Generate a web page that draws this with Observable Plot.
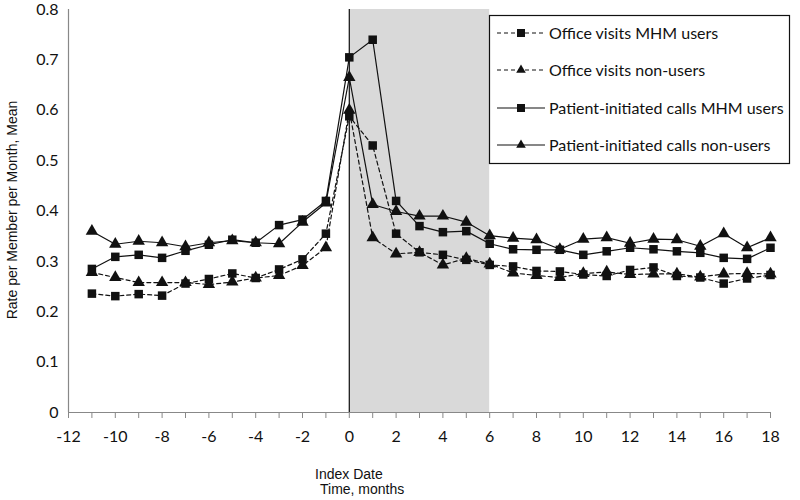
<!DOCTYPE html>
<html>
<head>
<meta charset="utf-8">
<script src="https://cdn.jsdelivr.net/npm/d3@7"></script>
<script src="https://cdn.jsdelivr.net/npm/@observablehq/plot@0.6"></script>
<style>
  html, body { margin: 0; padding: 0; background: #fff; }
  #chart svg { display: block; }
</style>
</head>
<body>
<div id="chart"></div>
<script>
const months = [-11,-10,-9,-8,-7,-6,-5,-4,-3,-2,-1,0,1,2,3,4,5,6,7,8,9,10,11,12,13,14,15,16,17,18];

const officeMHM = [0.236,0.231,0.235,0.232,0.256,0.265,0.276,0.267,0.284,0.304,0.355,0.588,0.530,0.355,0.318,0.313,0.303,0.293,0.290,0.281,0.280,0.274,0.271,0.283,0.288,0.271,0.268,0.256,0.266,0.273];
const officeNon = [0.278,0.268,0.258,0.258,0.258,0.254,0.259,0.267,0.272,0.292,0.327,0.600,0.347,0.315,0.318,0.293,0.306,0.295,0.277,0.272,0.268,0.276,0.279,0.274,0.275,0.275,0.269,0.275,0.276,0.275];
const callsMHM = [0.285,0.309,0.313,0.307,0.321,0.333,0.343,0.337,0.372,0.383,0.420,0.705,0.740,0.420,0.370,0.358,0.360,0.335,0.324,0.323,0.323,0.313,0.320,0.327,0.324,0.320,0.317,0.307,0.305,0.327];
const callsNon = [0.360,0.334,0.340,0.337,0.329,0.337,0.341,0.337,0.335,0.378,0.416,0.665,0.413,0.399,0.390,0.390,0.378,0.351,0.346,0.343,0.324,0.344,0.347,0.336,0.344,0.343,0.330,0.355,0.327,0.347];

const seriesNames = ["Office visits MHM users","Office visits non-users","Patient-initiated calls MHM users","Patient-initiated calls non-users"];
const seriesValues = [officeMHM, officeNon, callsMHM, callsNon];
const seriesDashed = [true, true, false, false];
const seriesSymbol = ["square","triangle","square","triangle"];

const xTicks = [-12,-10,-8,-6,-4,-2,0,2,4,6,8,10,12,14,16,18];
const xMinorTicks = [-12,-11,-10,-9,-8,-7,-6,-5,-4,-3,-2,-1,0,1,2,3,4,5,6,7,8,9,10,11,12,13,14,15,16,17,18];
const yTicks = [0,0.1,0.2,0.3,0.4,0.5,0.6,0.7,0.8];
const shadeWindow = [{x1:0, x2:6}];

const rows = [];
seriesNames.forEach((name, i) => {
  months.forEach((m, j) => rows.push({series: name, month: m, value: seriesValues[i][j]}));
});

const tickFont = "Lato, 'Open Sans', sans-serif";
const lineMarks = [];
seriesNames.forEach((name, i) => {
  const d = rows.filter(r => r.series === name);
  lineMarks.push(Plot.line(d, {x: "month", y: "value", stroke: "#111", strokeWidth: 1.2, strokeDasharray: seriesDashed[i] ? "4,3" : null}));
});
seriesNames.forEach((name, i) => {
  const d = rows.filter(r => r.series === name);
  lineMarks.push(Plot.dot(d, {x: "month", y: "value", symbol: () => seriesSymbol[i], fill: "#111", stroke: "none", r: seriesSymbol[i] === "square" ? 4.8 : 4.6}));
});

const chart = Plot.plot({
  width: 800,
  height: 500,
  marginLeft: 68,
  marginRight: 30,
  marginTop: 9,
  marginBottom: 88,
  style: {fontFamily: tickFont, fontSize: "15px", background: "#fff", color: "#111"},
  x: {domain: [-12, 18], label: null},
  y: {domain: [0, 0.8], label: null},
  symbol: {type: "identity"},
  marks: [
    Plot.rect(shadeWindow, {x1: "x1", x2: "x2", y1: 0, y2: 0.8, fill: "#d9d9d9"}),
    Plot.axisX({ticks: xMinorTicks, tickSize: 6, tickFormat: () => "", stroke: "#888", label: null}),
    Plot.axisX({ticks: xTicks, tickSize: 0, tickPadding: 18, fontSize: 16, fill: "#111", fontFamily: tickFont, tickFormat: d => String(d), label: null}),
    Plot.axisY({ticks: yTicks, tickSize: 0, tickPadding: 10, fontSize: 16, fill: "#111", fontFamily: tickFont, tickFormat: d => d === 0 ? "0" : d.toFixed(1), label: null}),
    Plot.ruleY([0], {stroke: "#888", strokeWidth: 1.2}),
    Plot.ruleX([-12], {stroke: "#888", strokeWidth: 1.2}),
    Plot.ruleX([0], {stroke: "#111", strokeWidth: 1.2}),
    ...lineMarks
  ]
});

document.getElementById("chart").appendChild(chart);

// Titles and legend
const svg = d3.select(chart);
svg.append("text")
  .attr("transform", "translate(17,210) rotate(-90)")
  .attr("text-anchor", "middle")
  .attr("font-family", "'Liberation Sans', Arial, sans-serif")
  .attr("font-size", 14)
  .attr("fill", "#111")
  .text("Rate per Member per Month, Mean");
svg.append("text").attr("x", 315).attr("y", 479).attr("text-anchor", "start")
  .attr("font-family", "'Liberation Sans', Arial, sans-serif").attr("font-size", 14).attr("fill", "#111")
  .text("Index Date");
svg.append("text").attr("x", 320).attr("y", 494).attr("text-anchor", "start")
  .attr("font-family", "'Liberation Sans', Arial, sans-serif").attr("font-size", 14).attr("fill", "#111")
  .text("Time, months");

const lg = svg.append("g");
lg.append("rect").attr("x", 489.5).attr("y", 15.5).attr("width", 300).attr("height", 148)
  .attr("fill", "#fff").attr("stroke", "#111").attr("stroke-width", 1.2);
const legendY = [33, 70, 108, 145];
seriesNames.forEach((name, i) => {
  const y = legendY[i];
  lg.append("line").attr("x1", 497).attr("x2", 545).attr("y1", y).attr("y2", y)
    .attr("stroke", "#111").attr("stroke-width", 1.2).attr("stroke-dasharray", seriesDashed[i] ? "4,3" : null);
  lg.append("path").attr("transform", `translate(521,${y})`)
    .attr("d", d3.symbol(seriesSymbol[i] === "square" ? d3.symbolSquare : d3.symbolTriangle, seriesSymbol[i] === "square" ? 64 : 40)())
    .attr("fill", "#111");
  lg.append("text").attr("x", 549).attr("y", y).attr("dy", "0.35em").attr("text-anchor", "start")
    .attr("font-family", tickFont).attr("font-size", 16).attr("fill", "#111")
    .text(name);
});
</script>
</body>
</html>
